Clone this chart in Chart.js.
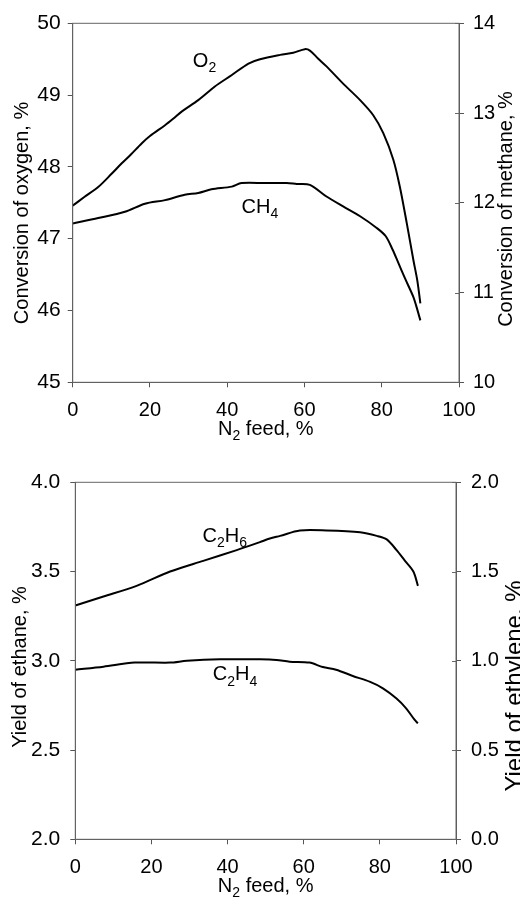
<!DOCTYPE html>
<html>
<head>
<meta charset="utf-8">
<script src="https://cdn.jsdelivr.net/npm/chart.js@4"></script>
<style>
  body { margin: 0; background: #fff; }
  #wrap { position: relative; width: 520px; height: 899px; }
  canvas { position: absolute; left: 0; }
</style>
</head>
<body>
<div id="wrap">
  <canvas id="convChart" width="520" height="445" style="top:0"></canvas>
  <canvas id="yieldChart" width="520" height="454" style="top:445px"></canvas>
</div>
<script>
// tick labels
const feedTicks = [0, 20, 40, 60, 80, 100];
const oxygenTicks = [45, 46, 47, 48, 49, 50];
const methaneTicks = [10, 11, 12, 13, 14];
const ethaneTicks = [2.0, 2.5, 3.0, 3.5, 4.0];
const ethyleneTicks = [0.0, 0.5, 1.0, 1.5, 2.0];

// conversion of oxygen (left axis, top chart)
const o2Feed = [0, 3, 6.6, 10, 12.7, 15, 17.9, 20, 23.9, 26, 28.2, 32.5, 36.8, 41.2, 45.5, 48.5, 53.7, 57.1, 60.1, 61.4, 63.5, 65.7, 70, 74.4, 77.8, 80.4, 83, 84.7, 86.5, 88.2, 89.2, 90];
const o2Conv = [47.46, 47.58, 47.72, 47.9, 48.05, 48.17, 48.33, 48.43, 48.58, 48.67, 48.77, 48.93, 49.12, 49.28, 49.44, 49.5, 49.56, 49.59, 49.64, 49.62, 49.51, 49.4, 49.16, 48.93, 48.72, 48.47, 48.1, 47.72, 47.21, 46.7, 46.42, 46.1];

// conversion of methane (right axis, top chart)
const ch4Feed = [0, 6.6, 13.5, 18.7, 23.9, 29, 32.5, 35.9, 41.2, 43.7, 49.8, 55.4, 58, 61.4, 65.7, 70, 74.4, 78.7, 81, 82.8, 84.3, 86, 88.2, 89, 90];
const ch4Conv = [11.77, 11.83, 11.9, 11.99, 12.03, 12.09, 12.11, 12.15, 12.18, 12.22, 12.22, 12.22, 12.21, 12.2, 12.07, 11.96, 11.85, 11.72, 11.63, 11.48, 11.33, 11.16, 10.95, 10.84, 10.69];

// yield of ethane (left axis, bottom chart)
const c2h6Feed = [0, 7.4, 16.1, 24.9, 33.6, 42.4, 48.5, 51.1, 53.8, 59, 66, 74.8, 79.2, 81.8, 84.4, 86.6, 88.8, 90];
const c2h6Yield = [3.31, 3.36, 3.42, 3.5, 3.56, 3.62, 3.665, 3.685, 3.7, 3.73, 3.73, 3.72, 3.7, 3.68, 3.62, 3.56, 3.5, 3.42];

// yield of ethylene (right axis, bottom chart)
const c2h4Feed = [0, 7.4, 15.6, 24.9, 29.3, 38, 48.5, 52.8, 56.3, 61.5, 65, 68.5, 72.9, 77.3, 80.8, 84.3, 86.9, 89.1, 90];
const c2h4Yield = [0.95, 0.967, 0.99, 0.99, 1.0, 1.008, 1.008, 1.005, 0.995, 0.99, 0.965, 0.95, 0.915, 0.883, 0.846, 0.79, 0.734, 0.67, 0.65];

const FAMILY = "'Liberation Sans', Arial, sans-serif";
Chart.defaults.font.family = FAMILY;
Chart.defaults.color = '#000';

// draws text where every odd part is a subscript
function drawSub(ctx, parts, x, y, size, align) {
    const subSize = Math.round(size * 0.68);
    let w = 0;
    parts.forEach((p, i) => {
        ctx.font = (i % 2 ? subSize : size) + 'px ' + FAMILY;
        w += ctx.measureText(p).width;
    });
    let cx = align === 'center' ? x - w / 2 : x;
    parts.forEach((p, i) => {
        ctx.font = (i % 2 ? subSize : size) + 'px ' + FAMILY;
        ctx.fillText(p, cx, i % 2 ? y + size * 0.27 : y);
        cx += ctx.measureText(p).width;
    });
}

function yAxis(ticksArr, pos, width, pad, size, fmt) {
    return {
        type: 'linear',
        position: pos,
        min: ticksArr[0],
        max: ticksArr[ticksArr.length - 1],
        afterBuildTicks: s => { s.ticks = ticksArr.map(v => ({ value: v })); },
        afterFit: s => { s.width = width; },
        grid: { drawOnChartArea: false, tickLength: 5, color: '#555' },
        border: { color: '#555' },
        ticks: { padding: pad, font: { size: size }, callback: fmt }
    };
}

function xAxis(height) {
    return {
        type: 'linear',
        min: 0,
        max: 100,
        afterBuildTicks: s => { s.ticks = feedTicks.map(v => ({ value: v })); },
        afterFit: s => { s.height = height; },
        grid: { drawOnChartArea: false, tickLength: 5, color: '#555' },
        border: { color: '#555' },
        ticks: { padding: 11, font: { size: 20 } }
    };
}

function series(xs, ys, axisId) {
    return {
        data: xs.map((x, i) => ({ x: x, y: ys[i] })),
        yAxisID: axisId,
        borderColor: '#000',
        borderWidth: 2,
        pointRadius: 0,
        tension: 0.3,
        fill: false
    };
}

// frame, right-axis inner ticks, curve labels and axis titles
function decorPlugin(labels, titles) {
    return {
        id: 'decor',
        afterDraw(chart) {
            const ctx = chart.ctx;
            const a = chart.chartArea;
            ctx.save();
            ctx.strokeStyle = '#666';
            ctx.lineWidth = 1;
            ctx.strokeRect(a.left, a.top, a.right - a.left, a.bottom - a.top);
            // right axis ticks cross the axis line in the original
            ctx.beginPath();
            chart.scales.y1.ticks.forEach(t => {
                const py = Math.round(chart.scales.y1.getPixelForValue(t.value)) + 0.5;
                ctx.moveTo(a.right - 4, py);
                ctx.lineTo(a.right, py);
            });
            ctx.stroke();
            ctx.fillStyle = '#000';
            ctx.textBaseline = 'alphabetic';
            ctx.textAlign = 'left';
            labels.forEach(l => {
                const px = chart.scales.x.getPixelForValue(l.x);
                const py = chart.scales.y.getPixelForValue(l.y);
                drawSub(ctx, l.parts, px, py, 20, 'left');
            });
            // x title
            drawSub(ctx, ['N', '2', ' feed, %'], (a.left + a.right) / 2, titles.xBase, 20, 'center');
            // left title
            ctx.save();
            ctx.translate(titles.leftBase, titles.leftMid);
            ctx.rotate(-Math.PI / 2);
            drawSub(ctx, [titles.left], 0, 0, titles.leftSize, 'center');
            ctx.restore();
            // right title
            ctx.save();
            ctx.translate(titles.rightBase, titles.rightMid);
            ctx.rotate(-Math.PI / 2);
            drawSub(ctx, [titles.right], 0, 0, titles.rightSize, 'center');
            ctx.restore();
            ctx.restore();
        }
    };
}

new Chart(document.getElementById('convChart'), {
    type: 'line',
    data: {
        datasets: [
            series(o2Feed, o2Conv, 'y'),
            series(ch4Feed, ch4Conv, 'y1')
        ]
    },
    options: {
        responsive: false,
        animation: false,
        layout: { padding: { top: 23.3, left: 0, right: 0, bottom: 0 } },
        plugins: { legend: { display: false }, tooltip: { enabled: false } },
        scales: {
            x: xAxis(62.7),
            y: yAxis(oxygenTicks, 'left', 72.7, 7, 21, v => String(v)),
            y1: yAxis(methaneTicks, 'right', 61, 9, 20, v => String(v))
        }
    },
    plugins: [decorPlugin(
        [
            { x: 31.1, y: 49.39, parts: ['O', '2'] },
            { x: 43.7, y: 47.36, parts: ['CH', '4'] }
        ],
        {
            xBase: 435,
            left: 'Conversion of oxygen, %', leftBase: 28, leftMid: 213, leftSize: 20,
            right: 'Conversion of methane, %', rightBase: 512, rightMid: 209, rightSize: 20
        }
    )]
});

new Chart(document.getElementById('yieldChart'), {
    type: 'line',
    data: {
        datasets: [
            series(c2h6Feed, c2h6Yield, 'y'),
            series(c2h4Feed, c2h4Yield, 'y1')
        ]
    },
    options: {
        responsive: false,
        animation: false,
        layout: { padding: { top: 37.3, left: 0, right: 0, bottom: 0 } },
        plugins: { legend: { display: false }, tooltip: { enabled: false } },
        scales: {
            x: xAxis(59.7),
            y: yAxis(ethaneTicks, 'left', 75.3, 10, 21, v => v.toFixed(1)),
            y1: yAxis(ethyleneTicks, 'right', 64, 10, 20, v => v.toFixed(1))
        }
    },
    plugins: [decorPlugin(
        [
            { x: 33.4, y: 3.667, parts: ['C', '2', 'H', '6'] },
            { x: 36.1, y: 2.89, parts: ['C', '2', 'H', '4'] }
        ],
        {
            xBase: 447,
            left: 'Yield of ethane, %', leftBase: 26, leftMid: 222, leftSize: 20,
            right: 'Yield of ethylene, %', rightBase: 522, rightMid: 241, rightSize: 24
        }
    )]
});
</script>
</body>
</html>
